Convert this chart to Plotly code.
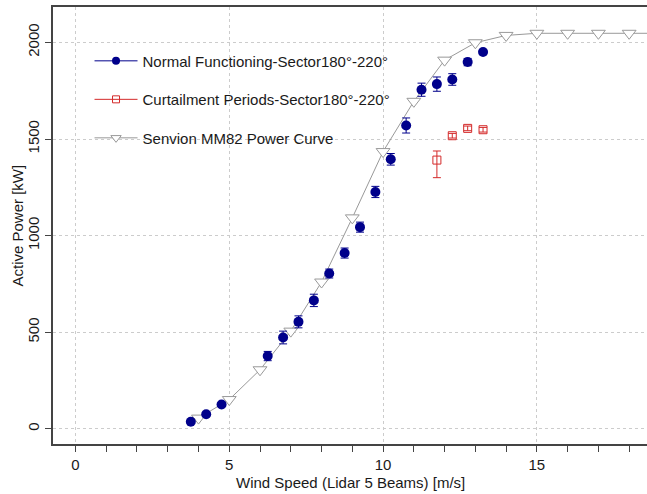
import plotly.graph_objects as go

# wind speed bins [m/s] and mean active power [kW]
normal_ws = [3.75, 4.25, 4.75, 6.25, 6.75, 7.25, 7.75, 8.25, 8.75, 9.25,
             9.75, 10.25, 10.75, 11.25, 11.75, 12.25, 12.75, 13.25]
normal_kw = [37, 76, 126, 377, 473, 554, 665, 804, 910, 1044,
             1226, 1395, 1570, 1755, 1784, 1808, 1898, 1950]
normal_err = [4, 5, 7, 24, 33, 31, 32, 23, 26, 26,
              29, 30, 39, 34, 37, 30, 19, 6]

curt_ws = [11.75, 12.25, 12.75, 13.25]
curt_kw = [1391, 1517, 1555, 1548]
curt_err_up = [47, 12, 12, 12]
curt_err_down = [91, 12, 12, 12]

pc_ws = [4, 5, 6, 7, 8, 9, 10, 11, 12, 13, 14, 15, 16, 17, 18, 19, 20]
pc_kw = [56, 152, 306, 506, 760, 1092, 1435, 1695, 1908, 1998,
         2036, 2047, 2047, 2047, 2047, 2047, 2047]

names = ["Normal Functioning-Sector180°-220°",
         "Curtailment Periods-Sector180°-220°",
         "Senvion MM82 Power Curve"]

NAVY = "#00008B"
RED = "#D42A2A"
GREY = "#999999"
AXIS = "#444444"
TXT = "#1a1a1a"

fig = go.Figure()

fig.add_trace(go.Scatter(
    x=pc_ws, y=pc_kw, mode="lines+markers", showlegend=False,
    line=dict(color=GREY, width=1),
    marker=dict(symbol="triangle-down", size=12, color="white",
                line=dict(color=GREY, width=1))
))

fig.add_trace(go.Scatter(
    x=curt_ws, y=curt_kw, mode="markers", showlegend=False,
    marker=dict(symbol="square-open", size=8, color=RED, line=dict(width=1)),
    error_y=dict(type="data", array=curt_err_up, arrayminus=curt_err_down,
                 color=RED, thickness=1, width=4)
))

fig.add_trace(go.Scatter(
    x=normal_ws, y=normal_kw, mode="markers", showlegend=False,
    marker=dict(symbol="circle", size=10, color=NAVY),
    error_y=dict(type="data", array=normal_err, color=NAVY,
                 thickness=1, width=4)
))

# legend entries (line + symbol, like the R legend)
legend_styles = [
    (NAVY, dict(symbol="circle", size=8, color=NAVY)),
    (RED, dict(symbol="square-open", size=7, color=RED)),
    (GREY, dict(symbol="triangle-down", size=9, color="white",
                line=dict(color=GREY, width=1))),
]
for i, (name, (col, mk)) in enumerate(zip(names, legend_styles)):
    fig.add_trace(go.Scatter(
        x=[None], y=[None], mode="lines+markers", name=name,
        legendgroup=f"g{i}", line=dict(color=col, width=1), marker=mk
    ))

axis_style = dict(showgrid=True, gridcolor="#cccccc", griddash="3px,3px", gridwidth=1,
                  zeroline=False, showline=True, linecolor=AXIS, linewidth=1.5,
                  ticks="outside", ticklen=6, tickcolor=AXIS, automargin=False,
                  tickfont=dict(size=15, color=TXT))

fig.update_layout(
    width=647, height=494,
    margin=dict(l=53, r=0, t=7, b=50),
    plot_bgcolor="white", paper_bgcolor="white",
    font=dict(family="Liberation Sans, Arial, sans-serif", size=15, color=TXT),
    xaxis=dict(range=[-0.73, 18.58], dtick=5, tick0=0, mirror=True,
               minor=dict(dtick=1, ticks="outside", ticklen=6, tickcolor=AXIS),
               **axis_style),
    yaxis=dict(range=[-78, 2183], dtick=500, tick0=0, tickangle=-90,
               **axis_style),
    legend=dict(x=0.0615, y=0.914, xanchor="left", yanchor="top",
                bgcolor="rgba(0,0,0,0)", tracegroupgap=16,
                font=dict(size=15, color=TXT), itemwidth=43),
    annotations=[
        dict(text="Wind Speed (Lidar 5 Beams) [m/s]", xref="paper", yref="paper",
             x=0.5, y=0, yanchor="middle", yshift=-38, showarrow=False,
             font=dict(size=15, color=TXT)),
        dict(text="Active Power [kW]", xref="paper", yref="paper", textangle=-90,
             x=0, y=0.5, xanchor="center", xshift=-36, showarrow=False,
             font=dict(size=15, color=TXT)),
    ],
)

# drop the browser's default 8px body margin so the figure fills the window
fig.write_html("out.html", config={"displayModeBar": False},
               post_script="document.body.style.margin='0';")
